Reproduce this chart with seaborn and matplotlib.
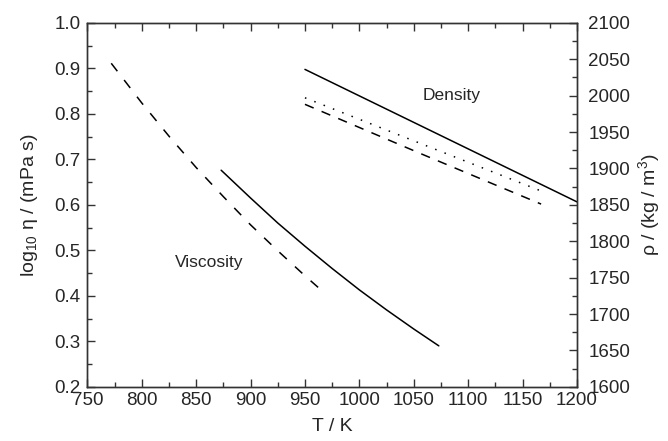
import matplotlib
matplotlib.use("Agg")
import matplotlib.pyplot as plt
from matplotlib.ticker import MultipleLocator
import seaborn as sns
import pandas as pd

# ---- data ----
visc_dash_T = [772, 800, 825, 850, 875, 900, 925, 950, 969]
visc_dash_v = [0.911, 0.824, 0.751, 0.682, 0.618, 0.556, 0.499, 0.444, 0.404]

visc_solid_T = [873, 900, 925, 950, 975, 1000, 1025, 1050, 1073]
visc_solid_v = [0.676, 0.615, 0.560, 0.509, 0.460, 0.413, 0.369, 0.327, 0.290]

dens_solid_T = [950, 1075, 1200]
dens_solid_r = [2036, 1945, 1854]

dens_dot_T = [950, 1060, 1167]
dens_dot_r = [1997, 1932, 1869]

dens_dash_T = [950, 1060, 1167]
dens_dash_r = [1988, 1918, 1851]

x_ticks = [750, 800, 850, 900, 950, 1000, 1050, 1100, 1150, 1200]
yl_ticks = [0.2, 0.3, 0.4, 0.5, 0.6, 0.7, 0.8, 0.9, 1.0]
yr_ticks = [1600, 1650, 1700, 1750, 1800, 1850, 1900, 1950, 2000, 2050, 2100]

sns.set_style("ticks")
plt.rcParams["font.family"] = ["Liberation Sans", "DejaVu Sans"]
plt.rcParams["mathtext.fontset"] = "custom"
plt.rcParams["mathtext.rm"] = "Liberation Sans"
plt.rcParams["mathtext.it"] = "Liberation Sans:italic"
plt.rcParams["lines.scale_dashes"] = False

fig = plt.figure(figsize=(6.68, 4.41), dpi=100)
ax = fig.add_axes([0.1307, 0.1229, 0.8638 - 0.1307, 0.9483 - 0.1229])
ax2 = ax.twinx()

lw = 1.1
df = pd.DataFrame({"T": visc_dash_T, "v": visc_dash_v})
sns.lineplot(data=df, x="T", y="v", ax=ax, color="black", linewidth=lw)
ax.get_lines()[-1].set_dashes((7.2, 8.0))

df = pd.DataFrame({"T": visc_solid_T, "v": visc_solid_v})
sns.lineplot(data=df, x="T", y="v", ax=ax, color="black", linewidth=lw)

df = pd.DataFrame({"T": dens_solid_T, "r": dens_solid_r})
sns.lineplot(data=df, x="T", y="r", ax=ax2, color="black", linewidth=lw)

df = pd.DataFrame({"T": dens_dot_T, "r": dens_dot_r})
sns.lineplot(data=df, x="T", y="r", ax=ax2, color="black", linewidth=lw)
ax2.get_lines()[-1].set_dashes((1.1, 6.1))

df = pd.DataFrame({"T": dens_dash_T, "r": dens_dash_r})
sns.lineplot(data=df, x="T", y="r", ax=ax2, color="black", linewidth=lw)
ax2.get_lines()[-1].set_dashes((6.8, 6.2))

ax.set_xlim(750, 1200)
ax.set_ylim(0.2, 1.0)
ax2.set_ylim(1600, 2100)

ax.set_xticks(x_ticks)
ax.set_xticklabels([str(t) for t in x_ticks])
ax.set_yticks(yl_ticks)
ax.set_yticklabels([f"{t:.1f}" for t in yl_ticks])
ax2.set_yticks(yr_ticks)
ax2.set_yticklabels([str(t) for t in yr_ticks])
ax.xaxis.set_minor_locator(MultipleLocator(25))
ax.yaxis.set_minor_locator(MultipleLocator(0.05))
ax2.yaxis.set_minor_locator(MultipleLocator(25))

spine_col = "#333333"
for a in (ax, ax2):
    for s in a.spines.values():
        s.set_visible(True)
        s.set_color(spine_col)
        s.set_linewidth(1.0)

fs_tick = 13.5
ax.tick_params(axis="x", which="both", direction="in", top=True, bottom=True,
               color=spine_col, labelsize=fs_tick, pad=4)
ax.tick_params(axis="y", which="both", direction="in", left=True, right=False,
               color=spine_col, labelsize=fs_tick, pad=5)
ax2.tick_params(axis="y", which="both", direction="in", right=True, left=False,
                color=spine_col, labelsize=fs_tick, pad=8)
for a in (ax, ax2):
    a.tick_params(which="major", length=6, width=1.0)
    a.tick_params(which="minor", length=3.5, width=1.0)

fs_lab = 14
ax.set_xlabel("T / K", fontsize=fs_lab)
ax.set_ylabel(r"log$_{\mathregular{10}}$ η / (mPa s)", fontsize=fs_lab)
ax2.set_ylabel(r"ρ / (kg / m$^{\mathregular{3}}$)", fontsize=fs_lab)
ax.xaxis.set_label_coords(0.5, -0.085)
ax.yaxis.set_label_coords(-0.097, 0.5)
ax2.yaxis.set_label_coords(1.12, 0.5)

ax.text(862, 0.474, "Viscosity", fontsize=12.5, ha="center", va="center")
ax.text(1085, 0.841, "Density", fontsize=12.5, ha="center", va="center")

fig.savefig("out.png", dpi=100)
